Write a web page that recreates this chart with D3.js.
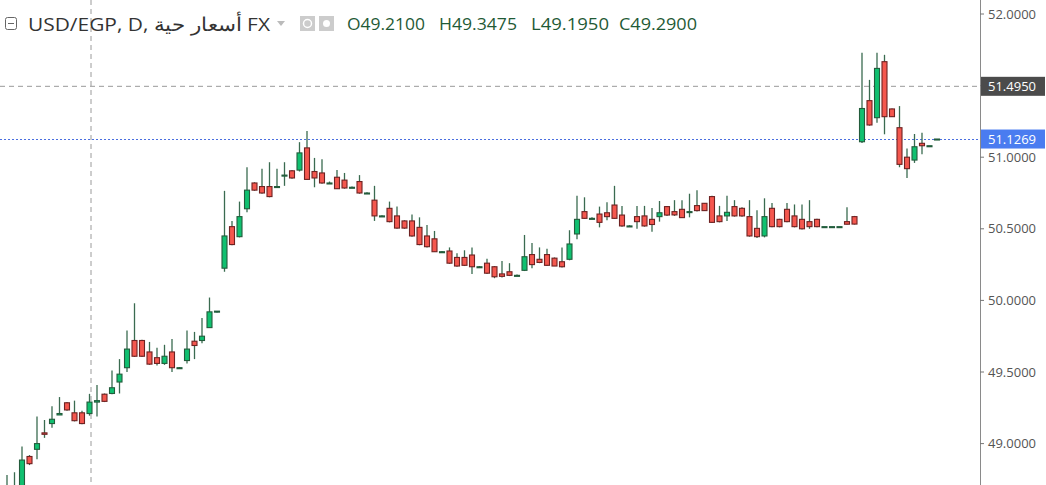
<!DOCTYPE html>
<html><head><meta charset="utf-8">
<script src="https://cdn.jsdelivr.net/npm/d3@7"></script>
<style>body{margin:0;background:#fff;}svg{display:block;font-family:"Open Sans","Noto Sans",sans-serif;}</style>
</head><body><svg id="c" width="1046" height="485"></svg>
<script>
const opens=[48.70,48.66,48.68,48.91,48.96,49.075,49.14,49.20,49.285,49.215,49.215,49.21,49.29,49.345,49.35,49.43,49.53,49.72,49.72,49.64,49.60,49.56,49.64,49.53,49.58,49.715,49.72,49.81,49.92,50.225,50.515,50.445,50.64,50.82,50.795,50.795,50.79,50.87,50.905,50.91,51.065,50.90,50.89,50.82,50.86,50.84,50.79,50.83,50.75,50.70,50.59,50.643,50.59,50.555,50.555,50.51,50.45,50.43,50.34,50.345,50.30,50.30,50.317,50.235,50.26,50.235,50.185,50.20,50.175,50.21,50.32,50.287,50.32,50.295,50.27,50.287,50.464,50.62,50.573,50.603,50.612,50.666,50.596,50.52,50.585,50.59,50.566,50.585,50.655,50.62,50.636,50.618,50.662,50.678,50.725,50.59,50.59,50.655,50.643,50.585,50.503,50.45,50.643,50.566,50.636,50.59,50.566,50.55,50.566,50.515,50.515,50.515,50.55,50.585,51.108,51.395,51.276,51.667,51.337,51.206,51.0,50.98,51.097,51.08,51.1269];
const highs=[48.78,48.80,48.98,48.92,49.19,49.165,49.26,49.325,49.29,49.30,49.23,49.3475,49.41,49.35,49.51,49.59,49.79,49.98,49.725,49.71,49.67,49.69,49.73,49.535,49.79,49.78,49.877,50.02,49.925,50.765,50.555,50.69,50.93,50.825,50.92,50.965,50.92,50.965,50.91,51.105,51.183,50.995,50.985,50.83,50.91,50.89,50.795,50.875,50.755,50.80,50.595,50.69,50.655,50.56,50.60,50.58,50.527,50.485,50.345,50.37,50.33,50.35,50.37,50.24,50.29,50.24,50.275,50.26,50.18,50.457,50.40,50.37,50.36,50.30,50.37,50.49,50.73,50.72,50.58,50.655,50.685,50.80,50.66,50.525,50.66,50.66,50.645,50.694,50.66,50.70,50.70,50.745,50.77,50.68,50.73,50.66,50.73,50.70,50.65,50.70,50.63,50.713,50.68,50.57,50.68,50.67,50.67,50.70,50.57,50.515,50.515,50.515,50.65,50.59,51.73,51.54,51.73,51.715,51.34,51.357,51.06,51.162,51.17,51.08,51.1269];
const lows=[48.60,48.62,48.65,48.85,48.89,49.04,49.11,49.20,49.23,49.155,49.135,49.195,49.19,49.29,49.345,49.35,49.50,49.605,49.605,49.55,49.545,49.55,49.50,49.525,49.56,49.59,49.70,49.81,49.915,50.20,50.385,50.44,50.615,50.765,50.745,50.72,50.785,50.80,50.85,50.90,50.845,50.79,50.815,50.815,50.78,50.78,50.785,50.745,50.745,50.555,50.585,50.545,50.50,50.50,50.445,50.385,50.37,50.34,50.335,50.255,50.235,50.24,50.185,50.23,50.185,50.155,50.16,50.17,50.17,50.205,50.225,50.26,50.24,50.24,50.23,50.28,50.427,50.57,50.57,50.51,50.56,50.57,50.515,50.515,50.50,50.515,50.48,50.55,50.59,50.59,50.575,50.58,50.62,50.625,50.54,50.545,50.555,50.585,50.585,50.445,50.435,50.44,50.51,50.51,50.545,50.51,50.495,50.50,50.51,50.515,50.515,50.515,50.53,50.53,51.10,51.22,51.24,51.16,51.28,50.93,50.855,50.96,51.02,51.08,51.1269];
const closes=[48.66,48.70,48.885,48.86,49.00,49.065,49.17,49.21,49.235,49.16,49.14,49.29,49.30,49.295,49.39,49.485,49.66,49.61,49.61,49.555,49.56,49.61,49.53,49.53,49.66,49.685,49.75,49.92,49.925,50.45,50.39,50.585,50.77,50.77,50.75,50.725,50.795,50.875,50.855,51.03,50.845,50.855,50.82,50.82,50.78,50.785,50.79,50.75,50.75,50.59,50.59,50.55,50.505,50.505,50.45,50.39,50.375,50.34,50.34,50.26,50.24,50.245,50.235,50.235,50.19,50.165,50.168,50.175,50.175,50.305,50.25,50.265,50.245,50.24,50.235,50.394,50.566,50.573,50.573,50.545,50.585,50.573,50.52,50.52,50.55,50.52,50.53,50.612,50.596,50.597,50.578,50.62,50.627,50.627,50.545,50.55,50.615,50.59,50.59,50.45,50.445,50.585,50.515,50.515,50.55,50.515,50.50,50.515,50.515,50.515,50.515,50.515,50.532,50.533,51.34,51.225,51.62,51.283,51.283,50.95,50.92,51.073,51.08,51.08,51.1269];
const priceTicks=[52.0,51.5,51.0,50.5,50.0,49.5,49.0];
const hoverIndex=11, hoverPrice=51.4950, lastPrice=51.1269;
const headerTitle="USD/EGP, D, أسعار حية FX";
const ohlcLabels=["O","H","L","C"];

const svg=d3.select("#c");
const W=1046,H=485,axisX=980;
const x=d3.scaleLinear().domain([0,opens.length-1]).range([7,937]);
const y=d3.scaleLinear().domain([48,52]).range([586.8,14]);
const data=opens.map((o,i)=>({i,o,h:highs[i],l:lows[i],c:closes[i]}));

svg.append("defs").append("clipPath").attr("id","pl").append("rect").attr("width",axisX).attr("height",H);
const g=svg.append("g").attr("clip-path","url(#pl)");

g.append("line").attr("x1",x(hoverIndex)+1.5).attr("x2",x(hoverIndex)+1.5).attr("y1",0).attr("y2",H)
 .attr("stroke","#9a9a9a").attr("stroke-dasharray","5,4");
g.append("line").attr("x1",0).attr("x2",axisX).attr("y1",y(hoverPrice)).attr("y2",y(hoverPrice))
 .attr("stroke","#9a9a9a").attr("stroke-dasharray","5,4");
g.append("line").attr("x1",0).attr("x2",axisX).attr("y1",Math.round(y(lastPrice))+0.5).attr("y2",Math.round(y(lastPrice))+0.5)
 .attr("stroke","#4a6fe0").attr("stroke-dasharray","2,2");

const cs=g.selectAll(".c").data(data).enter().append("g");
cs.append("line").attr("x1",d=>x(d.i)).attr("x2",d=>x(d.i)).attr("y1",d=>y(d.h)).attr("y2",d=>y(d.l))
 .attr("stroke","#3a6b50").attr("stroke-width",1.3);
cs.append("rect").attr("x",d=>x(d.i)-2.5).attr("width",5)
 .attr("y",d=>Math.min(y(d.o),y(d.c))).attr("height",d=>Math.max(1,Math.abs(y(d.o)-y(d.c))))
 .attr("fill",d=>d.c>=d.o?"#10c070":"#f4574e")
 .attr("stroke",d=>d.c>=d.o?"#235c3c":"#6e2222").attr("stroke-width",1.1);

svg.append("line").attr("x1",axisX+0.5).attr("x2",axisX+0.5).attr("y1",0).attr("y2",H).attr("stroke","#8a8a8a");
const ax=svg.append("g");
priceTicks.forEach(p=>{
  ax.append("line").attr("x1",axisX).attr("x2",axisX+4).attr("y1",y(p)).attr("y2",y(p)).attr("stroke","#777");
  ax.append("text").attr("x",988).attr("y",y(p)+4.5).attr("font-size",13).attr("fill","#555").text(p.toFixed(4));
});
[[hoverPrice,"#4b4b4b"],[lastPrice,"#4a7cf0"]].forEach(([p,col])=>{
  const yy=y(p);
  ax.append("rect").attr("x",axisX+1).attr("y",yy-9.5).attr("width",64).attr("height",19).attr("fill",col);
  ax.append("text").attr("x",988).attr("y",yy+4.5).attr("font-size",13).attr("fill","#fff").text(p.toFixed(4));
});

const hd=svg.append("g");
hd.append("rect").attr("x",5.5).attr("y",17.5).attr("width",11).attr("height",12).attr("rx",2).attr("fill","none").attr("stroke","#666");
hd.append("line").attr("x1",8).attr("x2",14).attr("y1",23.5).attr("y2",23.5).attr("stroke","#666");
hd.append("text").attr("x",28).attr("y",31).attr("font-size",18.5).attr("fill","#333")
 .attr("textLength",242).attr("lengthAdjust","spacingAndGlyphs").text(headerTitle);
hd.append("path").attr("d","M277,21 L285,21 L281,26 Z").attr("fill","#bbb");
hd.append("rect").attr("x",300).attr("y",16).attr("width",15).attr("height",15).attr("fill","#ccc");
hd.append("circle").attr("cx",307.5).attr("cy",23.5).attr("r",4).attr("fill","none").attr("stroke","#fff").attr("stroke-width",1.5);
hd.append("rect").attr("x",319).attr("y",16).attr("width",15).attr("height",15).attr("fill","#ccc");
hd.append("circle").attr("cx",326.5).attr("cy",23.5).attr("r",3.5).attr("fill","#fff");
const vals=[opens[hoverIndex],highs[hoverIndex],lows[hoverIndex],closes[hoverIndex]];
const xs=[347,439,531,619];
ohlcLabels.forEach((l,k)=>{
  hd.append("text").attr("x",xs[k]).attr("y",30).attr("font-size",16).attr("fill","#1f5a36")
   .attr("textLength",78).attr("lengthAdjust","spacingAndGlyphs").text(l+vals[k].toFixed(4));
});
</script></body></html>
